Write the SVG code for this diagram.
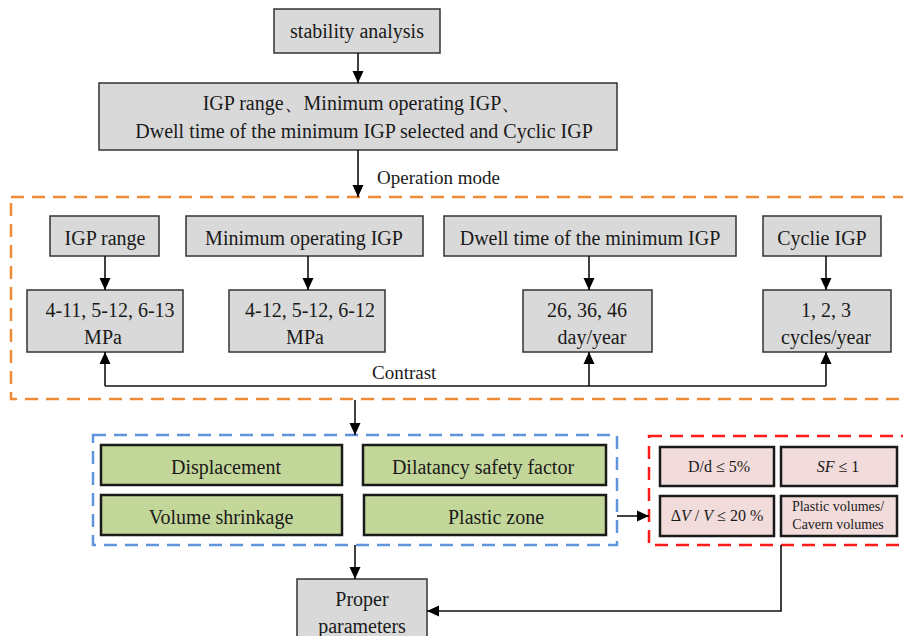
<svg xmlns="http://www.w3.org/2000/svg" width="903" height="636" viewBox="0 0 903 636">
<style>
text{font-family:"Liberation Serif","Times New Roman",serif;fill:#1a1a1a;text-anchor:middle}
.g{fill:#d9d9d9;stroke:#333;stroke-width:1.5}
.gr{fill:#c4d79b;stroke:#1a1a1a;stroke-width:2.5}
.pk{fill:#f2dcdb;stroke:#1a1a1a;stroke-width:2.5}
.t{font-size:20px}
.s{font-size:16px}
.c{fill:none;stroke:#111;stroke-width:1.6}
.a{marker-end:url(#ah)}
</style>
<defs>
<marker id="ah" markerUnits="userSpaceOnUse" markerWidth="12" markerHeight="12" viewBox="0 0 12 12" refX="12" refY="6" orient="auto">
<path d="M0,0.5 L12,6 L0,11.5 z" fill="#000"/>
</marker>
</defs>
<g id="groups">
<rect x="11" y="197" width="910" height="202" fill="none" stroke="#ee8a35" stroke-width="2.5" stroke-dasharray="13,8"/>
<rect x="93" y="435" width="524" height="110" fill="none" stroke="#5f95dc" stroke-width="2.5" stroke-dasharray="13,8"/>
<rect x="649" y="436" width="270" height="109" fill="none" stroke="#ff1a1a" stroke-width="2.5" stroke-dasharray="13,8"/>
</g>
<g id="n-stability"><rect class="g" x="274" y="9" width="166" height="44"/><text class="t" x="357" y="38">stability analysis</text></g>
<g id="n-igp"><rect class="g" x="99" y="83" width="518" height="67"/><text class="t" x="362" y="110">IGP range、Minimum operating IGP、</text><text class="t" x="364" y="138">Dwell time of the minimum IGP selected and Cyclic IGP</text></g>
<g id="n-range"><rect class="g" x="50" y="216" width="109" height="40"/><text class="t" x="105" y="245">IGP range</text></g>
<g id="n-minop"><rect class="g" x="186" y="216" width="237" height="40"/><text class="t" x="304" y="245">Minimum operating IGP</text></g>
<g id="n-dwell"><rect class="g" x="444" y="216" width="292" height="40"/><text class="t" x="590" y="245">Dwell time of the minimum IGP</text></g>
<g id="n-cyclie"><rect class="g" x="763" y="216" width="118" height="40"/><text class="t" x="822" y="245">Cyclie IGP</text></g>
<g id="n-v1"><rect class="g" x="27" y="290" width="156" height="62"/><text class="t" x="110" y="317">4-11, 5-12, 6-13</text><text class="t" x="103" y="344">MPa</text></g>
<g id="n-v2"><rect class="g" x="229" y="290" width="156" height="62"/><text class="t" x="310" y="317">4-12, 5-12, 6-12</text><text class="t" x="305" y="344">MPa</text></g>
<g id="n-v3"><rect class="g" x="523" y="290" width="129" height="62"/><text class="t" x="587" y="317">26, 36, 46</text><text class="t" x="592" y="344">day/year</text></g>
<g id="n-v4"><rect class="g" x="763" y="290" width="128" height="62"/><text class="t" x="826" y="317">1, 2, 3</text><text class="t" x="826" y="344">cycles/year</text></g>
<g id="n-disp"><rect class="gr" x="101" y="445" width="241" height="40"/><text class="t" x="226" y="474">Displacement</text></g>
<g id="n-dil"><rect class="gr" x="363" y="445" width="243" height="40"/><text class="t" x="483" y="474">Dilatancy safety factor</text></g>
<g id="n-vol"><rect class="gr" x="101" y="495" width="241" height="40"/><text class="t" x="221" y="524">Volume shrinkage</text></g>
<g id="n-plastic"><rect class="gr" x="364" y="495" width="242" height="40"/><text class="t" x="496" y="524">Plastic zone</text></g>
<g id="n-dd"><rect class="pk" x="660" y="447" width="114" height="39"/><text class="s" x="719" y="472">D/d ≤ 5%</text></g>
<g id="n-sf"><rect class="pk" x="781" y="447" width="116" height="39"/><text class="s" x="838" y="472"><tspan font-style="italic">SF</tspan> ≤ 1</text></g>
<g id="n-dv"><rect class="pk" x="660" y="496" width="114" height="40"/><text class="s" x="717" y="521">Δ<tspan font-style="italic">V</tspan> / <tspan font-style="italic">V</tspan> ≤ 20 %</text></g>
<g id="n-pv"><rect class="pk" x="781" y="496" width="116" height="40"/><text x="838" y="511" style="font-size:14px">Plastic volumes/</text><text x="838" y="529" style="font-size:14px">Cavern volumes</text></g>
<g id="n-proper"><rect class="g" x="297" y="579" width="130" height="70"/><text class="t" x="362" y="606">Proper</text><text class="t" x="362" y="633">parameters</text></g>
<g id="connectors">
<line class="c a" x1="358" y1="53" x2="358" y2="83"/>
<line class="c a" x1="358" y1="150" x2="358" y2="197"/>
<text x="377" y="184" style="font-size:19px;text-anchor:start">Operation mode</text>
<line class="c a" x1="105" y1="256" x2="105" y2="290"/>
<line class="c a" x1="308" y1="256" x2="308" y2="290"/>
<line class="c a" x1="589" y1="256" x2="589" y2="290"/>
<line class="c a" x1="826" y1="256" x2="826" y2="290"/>
<polyline class="c" points="105,386 826,386"/>
<line class="c a" x1="105" y1="386" x2="105" y2="352"/>
<line class="c a" x1="589" y1="386" x2="589" y2="352"/>
<line class="c a" x1="826" y1="386" x2="826" y2="352"/>
<text x="372" y="379" style="font-size:19px;text-anchor:start">Contrast</text>
<line class="c a" x1="355" y1="400" x2="355" y2="435"/>
<line class="c a" x1="617" y1="516" x2="649" y2="516"/>
<line class="c a" x1="355" y1="545" x2="355" y2="579"/>
<polyline class="c a" points="781,545 781,611 427,611"/>
</g>
</svg>
